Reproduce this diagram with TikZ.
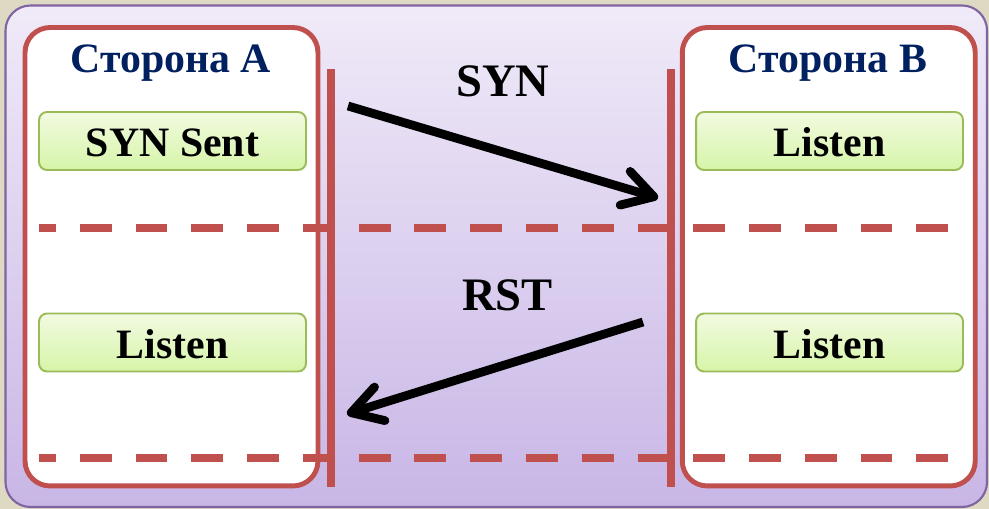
\documentclass[tikz,border=0pt]{standalone}
\usepackage{fontspec}
\setmainfont{Liberation Serif}
\usetikzlibrary{arrows.meta}

\definecolor{pageback}{RGB}{221,217,195}
\definecolor{frameline}{RGB}{128,100,162}
\definecolor{frametop}{RGB}{240,234,248}
\definecolor{framebottom}{RGB}{200,182,230}
\definecolor{sidered}{RGB}{192,80,77}
\definecolor{titleblue}{RGB}{0,32,96}
\definecolor{statetop}{RGB}{242,250,225}
\definecolor{statebottom}{RGB}{214,245,168}
\definecolor{stateline}{RGB}{155,187,89}

\tikzset{
  sidepanel/.style={draw=sidered, line width=2.8pt, fill=white, rounded corners=0.5cm,
    minimum width=5.86cm, minimum height=9.17cm, inner sep=0pt},
  sidetitle/.style={anchor=base, text=titleblue, font=\fontsize{23.8}{28}\selectfont\bfseries},
  statebox/.style={draw=stateline, line width=1.1pt, top color=statetop, bottom color=statebottom,
    rounded corners=0.16cm, minimum width=5.34cm, minimum height=1.16cm,
    text height=0.68cm, text depth=0.04cm, inner sep=0pt,
    font=\fontsize{23.8}{28}\selectfont\bfseries},
  msglabel/.style={anchor=base, font=\fontsize{26.5}{30}\selectfont\bfseries},
  timeline/.style={draw=sidered, line width=4.5pt},
  stepline/.style={draw=sidered, line width=4.5pt, dash pattern=on 18.14pt off 13.6pt, dash phase=8.5pt},
  msgarrow/.style={line width=5pt, -{Straight Barb[length=17pt, width=20pt, round]}},
}

\begin{document}
\begin{tikzpicture}[x=0.02cm, y=-0.02cm]

\fill[pageback] (0,0) rectangle (989,509);
\useasboundingbox (0,0) rectangle (989,509);

% Frame
\draw[frameline, line width=1.2pt, top color=frametop, bottom color=framebottom, rounded corners=0.5cm]
    (5.5,5.5) rectangle (987,507);

% Sides
\node[sidepanel] (sideA) at (171.5,256.75) {};
\node[sidepanel] (sideB) at (828.75,256.75) {};

\node[sidetitle] (titleA) at (171,73) {Сторона А};
\node[sidetitle] (titleB) at (828,73) {Сторона В};

% Step separators
\coordinate (stepOneL) at (39,228);
\coordinate (stepOneR) at (960,228);
\coordinate (stepTwoL) at (39,458);
\coordinate (stepTwoR) at (960,458);
\draw[stepline] (stepOneL) -- (stepOneR);
\draw[stepline] (stepTwoL) -- (stepTwoR);

% Time lines
\coordinate (aTop) at (331,69);
\coordinate (aBottom) at (331,487);
\coordinate (bTop) at (671,69);
\coordinate (bBottom) at (671,487);
\draw[timeline] (aTop) -- (aBottom);
\draw[timeline] (bTop) -- (bBottom);

% States
\node[statebox] (stateA1) at (172.5,141) {SYN Sent};
\node[statebox] (stateB1) at (829.5,141) {Listen};
\node[statebox] (stateA2) at (172.5,342.5) {Listen};
\node[statebox] (stateB2) at (829.5,342.5) {Listen};

% Messages
\node[msglabel] (synLabel) at (503,97) {SYN};
\node[msglabel] (rstLabel) at (507.5,311) {RST};

\coordinate (synStart) at (348,106);
\coordinate (synEnd) at (658,198);
\coordinate (rstStart) at (643,322);
\coordinate (rstEnd) at (347,414);
\draw[msgarrow] (synStart) -- (synEnd);
\draw[msgarrow] (rstStart) -- (rstEnd);

\end{tikzpicture}
\end{document}
